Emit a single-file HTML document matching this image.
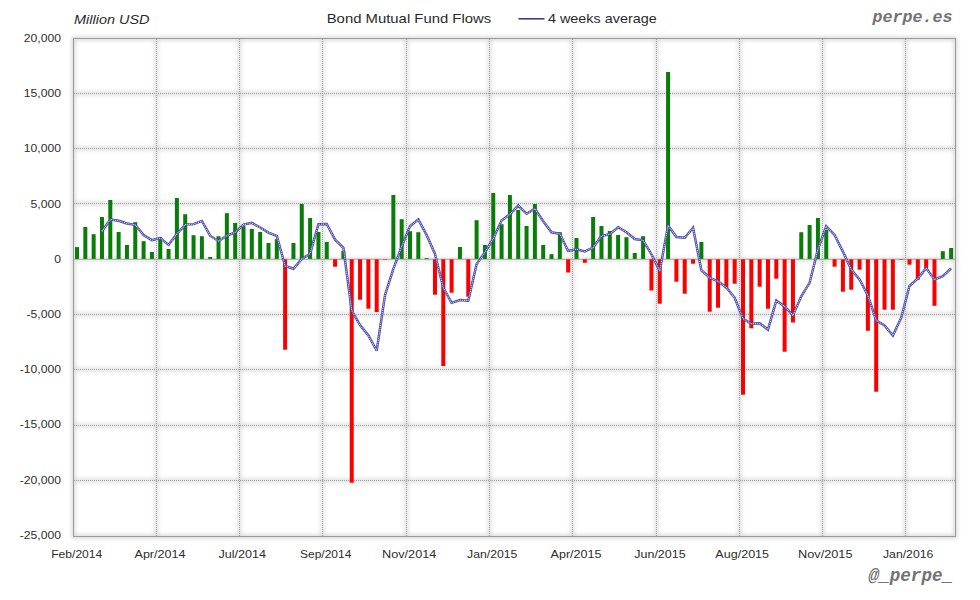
<!DOCTYPE html>
<html><head><meta charset="utf-8"><title>Bond Mutual Fund Flows</title>
<style>
html,body{margin:0;padding:0;background:#fff;}
svg{display:block;}
.lab text{font-family:"Liberation Sans",sans-serif;font-size:11px;fill:#2e2e2e;}
.ttl{font-family:"Liberation Sans",sans-serif;font-size:13.5px;fill:#2a2a2a;}
.mono{font-family:"Liberation Mono",monospace;font-weight:bold;font-style:italic;fill:#737373;}
</style></head>
<body>
<svg width="980" height="600" viewBox="0 0 980 600">
<defs>
<filter id="bl" x="-5%" y="-5%" width="110%" height="110%"><feGaussianBlur stdDeviation="2"/></filter>
</defs>
<rect width="980" height="600" fill="#fff"/>
<g filter="url(#bl)" stroke="#000" stroke-width="2.4" opacity="0.2" fill="none">
<rect x="73.5" y="38.5" width="882.0" height="498.0" stroke-width="3"/>
<line x1="73.5" y1="93.5" x2="955.5" y2="93.5"/><line x1="73.5" y1="148.5" x2="955.5" y2="148.5"/><line x1="73.5" y1="203.5" x2="955.5" y2="203.5"/><line x1="73.5" y1="259.6" x2="955.5" y2="259.6"/><line x1="73.5" y1="314.5" x2="955.5" y2="314.5"/><line x1="73.5" y1="369.5" x2="955.5" y2="369.5"/><line x1="73.5" y1="425.5" x2="955.5" y2="425.5"/><line x1="73.5" y1="480.5" x2="955.5" y2="480.5"/><line x1="156.5" y1="38.5" x2="156.5" y2="536.5"/><line x1="239.5" y1="38.5" x2="239.5" y2="536.5"/><line x1="322.5" y1="38.5" x2="322.5" y2="536.5"/><line x1="406.5" y1="38.5" x2="406.5" y2="536.5"/><line x1="489.5" y1="38.5" x2="489.5" y2="536.5"/><line x1="572.5" y1="38.5" x2="572.5" y2="536.5"/><line x1="656.5" y1="38.5" x2="656.5" y2="536.5"/><line x1="739.5" y1="38.5" x2="739.5" y2="536.5"/><line x1="822.5" y1="38.5" x2="822.5" y2="536.5"/><line x1="905.5" y1="38.5" x2="905.5" y2="536.5"/>
</g>
<g stroke="#a2a2a2" stroke-width="1" stroke-dasharray="1,1" fill="none">
<line x1="74" y1="93.5" x2="955" y2="93.5"/><line x1="74" y1="148.5" x2="955" y2="148.5"/><line x1="74" y1="203.5" x2="955" y2="203.5"/><line x1="74" y1="314.5" x2="955" y2="314.5"/><line x1="74" y1="369.5" x2="955" y2="369.5"/><line x1="74" y1="425.5" x2="955" y2="425.5"/><line x1="74" y1="480.5" x2="955" y2="480.5"/><line x1="156.5" y1="39" x2="156.5" y2="536"/><line x1="239.5" y1="39" x2="239.5" y2="536"/><line x1="322.5" y1="39" x2="322.5" y2="536"/><line x1="406.5" y1="39" x2="406.5" y2="536"/><line x1="489.5" y1="39" x2="489.5" y2="536"/><line x1="572.5" y1="39" x2="572.5" y2="536"/><line x1="656.5" y1="39" x2="656.5" y2="536"/><line x1="739.5" y1="39" x2="739.5" y2="536"/><line x1="822.5" y1="39" x2="822.5" y2="536"/><line x1="905.5" y1="39" x2="905.5" y2="536"/>
</g>
<rect x="73.5" y="38.5" width="882.0" height="498.0" fill="none" stroke="#9a9a9a" stroke-width="1"/>
<line x1="74" y1="259.3" x2="955" y2="259.3" stroke="#a4a4a4" stroke-width="1.1"/>
<g>
<rect x="75.00" y="247.1" width="4" height="11.8" fill="#087d08"/><rect x="83.33" y="227.0" width="4" height="31.9" fill="#087d08"/><rect x="91.65" y="234.2" width="4" height="24.7" fill="#087d08"/><rect x="99.97" y="217.0" width="4" height="41.9" fill="#087d08"/><rect x="108.30" y="200.0" width="4" height="58.9" fill="#087d08"/><rect x="116.62" y="232.0" width="4" height="26.9" fill="#087d08"/><rect x="124.95" y="245.0" width="4" height="13.9" fill="#087d08"/><rect x="133.27" y="222.2" width="4" height="36.7" fill="#087d08"/><rect x="141.60" y="241.2" width="4" height="17.7" fill="#087d08"/><rect x="149.93" y="252.0" width="4" height="6.9" fill="#087d08"/><rect x="158.25" y="237.2" width="4" height="21.7" fill="#087d08"/><rect x="166.57" y="249.0" width="4" height="9.9" fill="#087d08"/><rect x="174.90" y="198.0" width="4" height="60.9" fill="#087d08"/><rect x="183.22" y="214.2" width="4" height="44.7" fill="#087d08"/><rect x="191.55" y="235.2" width="4" height="23.7" fill="#087d08"/><rect x="199.88" y="236.2" width="4" height="22.7" fill="#087d08"/><rect x="208.20" y="257.0" width="4" height="1.9" fill="#087d08"/><rect x="216.52" y="236.2" width="4" height="22.7" fill="#087d08"/><rect x="224.85" y="213.2" width="4" height="45.7" fill="#087d08"/><rect x="233.17" y="223.0" width="4" height="35.9" fill="#087d08"/><rect x="241.50" y="226.2" width="4" height="32.7" fill="#087d08"/><rect x="249.82" y="229.0" width="4" height="29.9" fill="#087d08"/><rect x="258.15" y="232.0" width="4" height="26.9" fill="#087d08"/><rect x="266.48" y="243.0" width="4" height="15.9" fill="#087d08"/><rect x="274.80" y="239.2" width="4" height="19.7" fill="#087d08"/><rect x="283.12" y="259.3" width="4" height="90.4" fill="#fa0000"/><rect x="291.45" y="243.0" width="4" height="15.9" fill="#087d08"/><rect x="299.77" y="204.0" width="4" height="54.9" fill="#087d08"/><rect x="308.10" y="218.0" width="4" height="40.9" fill="#087d08"/><rect x="316.42" y="232.0" width="4" height="26.9" fill="#087d08"/><rect x="324.75" y="242.0" width="4" height="16.9" fill="#087d08"/><rect x="333.07" y="259.3" width="4" height="7.4" fill="#fa0000"/><rect x="341.40" y="251.0" width="4" height="7.9" fill="#087d08"/><rect x="349.72" y="259.3" width="4" height="223.4" fill="#fa0000"/><rect x="358.05" y="259.3" width="4" height="40.4" fill="#fa0000"/><rect x="366.38" y="259.3" width="4" height="49.4" fill="#fa0000"/><rect x="374.70" y="259.3" width="4" height="52.7" fill="#fa0000"/><rect x="383.02" y="259.3" width="4" height="0.5" fill="#fa0000"/><rect x="391.35" y="195.0" width="4" height="63.9" fill="#087d08"/><rect x="399.67" y="219.2" width="4" height="39.7" fill="#087d08"/><rect x="408.00" y="231.2" width="4" height="27.7" fill="#087d08"/><rect x="416.32" y="232.2" width="4" height="26.7" fill="#087d08"/><rect x="424.65" y="258.0" width="4" height="0.9" fill="#087d08"/><rect x="432.97" y="259.3" width="4" height="35.4" fill="#fa0000"/><rect x="441.30" y="259.3" width="4" height="106.7" fill="#fa0000"/><rect x="449.62" y="259.3" width="4" height="33.4" fill="#fa0000"/><rect x="457.95" y="247.0" width="4" height="11.9" fill="#087d08"/><rect x="466.27" y="259.3" width="4" height="37.4" fill="#fa0000"/><rect x="474.60" y="220.2" width="4" height="38.7" fill="#087d08"/><rect x="482.92" y="245.0" width="4" height="13.9" fill="#087d08"/><rect x="491.25" y="193.0" width="4" height="65.9" fill="#087d08"/><rect x="499.57" y="224.2" width="4" height="34.7" fill="#087d08"/><rect x="507.90" y="195.0" width="4" height="63.9" fill="#087d08"/><rect x="516.22" y="210.0" width="4" height="48.9" fill="#087d08"/><rect x="524.55" y="226.0" width="4" height="32.9" fill="#087d08"/><rect x="532.88" y="204.0" width="4" height="54.9" fill="#087d08"/><rect x="541.20" y="245.0" width="4" height="13.9" fill="#087d08"/><rect x="549.52" y="254.2" width="4" height="4.7" fill="#087d08"/><rect x="557.85" y="232.2" width="4" height="26.7" fill="#087d08"/><rect x="566.17" y="259.3" width="4" height="13.2" fill="#fa0000"/><rect x="574.50" y="238.0" width="4" height="20.9" fill="#087d08"/><rect x="582.82" y="259.3" width="4" height="3.5" fill="#fa0000"/><rect x="591.15" y="217.0" width="4" height="41.9" fill="#087d08"/><rect x="599.47" y="226.0" width="4" height="32.9" fill="#087d08"/><rect x="607.80" y="231.0" width="4" height="27.9" fill="#087d08"/><rect x="616.12" y="235.0" width="4" height="23.9" fill="#087d08"/><rect x="624.45" y="237.2" width="4" height="21.7" fill="#087d08"/><rect x="632.77" y="253.0" width="4" height="5.9" fill="#087d08"/><rect x="641.10" y="236.2" width="4" height="22.7" fill="#087d08"/><rect x="649.42" y="259.3" width="4" height="31.2" fill="#fa0000"/><rect x="657.75" y="259.3" width="4" height="44.4" fill="#fa0000"/><rect x="666.07" y="72.0" width="4" height="186.9" fill="#087d08"/><rect x="674.40" y="259.3" width="4" height="22.4" fill="#fa0000"/><rect x="682.72" y="259.3" width="4" height="34.4" fill="#fa0000"/><rect x="691.05" y="259.3" width="4" height="4.4" fill="#fa0000"/><rect x="699.38" y="242.0" width="4" height="16.9" fill="#087d08"/><rect x="707.70" y="259.3" width="4" height="52.4" fill="#fa0000"/><rect x="716.02" y="259.3" width="4" height="48.4" fill="#fa0000"/><rect x="724.35" y="259.3" width="4" height="29.0" fill="#fa0000"/><rect x="732.67" y="259.3" width="4" height="24.4" fill="#fa0000"/><rect x="741.00" y="259.3" width="4" height="135.4" fill="#fa0000"/><rect x="749.32" y="259.3" width="4" height="69.0" fill="#fa0000"/><rect x="757.65" y="259.3" width="4" height="27.4" fill="#fa0000"/><rect x="765.97" y="259.3" width="4" height="49.4" fill="#fa0000"/><rect x="774.30" y="259.3" width="4" height="19.4" fill="#fa0000"/><rect x="782.62" y="259.3" width="4" height="92.4" fill="#fa0000"/><rect x="790.95" y="259.3" width="4" height="63.2" fill="#fa0000"/><rect x="799.27" y="232.2" width="4" height="26.7" fill="#087d08"/><rect x="807.60" y="225.0" width="4" height="33.9" fill="#087d08"/><rect x="815.92" y="218.0" width="4" height="40.9" fill="#087d08"/><rect x="824.25" y="230.0" width="4" height="28.9" fill="#087d08"/><rect x="832.57" y="259.3" width="4" height="7.4" fill="#fa0000"/><rect x="840.90" y="259.3" width="4" height="32.4" fill="#fa0000"/><rect x="849.22" y="259.3" width="4" height="30.4" fill="#fa0000"/><rect x="857.55" y="259.3" width="4" height="10.4" fill="#fa0000"/><rect x="865.87" y="259.3" width="4" height="71.5" fill="#fa0000"/><rect x="874.20" y="259.3" width="4" height="132.4" fill="#fa0000"/><rect x="882.52" y="259.3" width="4" height="50.4" fill="#fa0000"/><rect x="890.85" y="259.3" width="4" height="50.4" fill="#fa0000"/><rect x="899.17" y="259.3" width="4" height="0.5" fill="#fa0000"/><rect x="907.50" y="259.3" width="4" height="5.4" fill="#fa0000"/><rect x="915.82" y="259.3" width="4" height="20.4" fill="#fa0000"/><rect x="924.15" y="259.3" width="4" height="9.0" fill="#fa0000"/><rect x="932.47" y="259.3" width="4" height="46.5" fill="#fa0000"/><rect x="940.80" y="251.2" width="4" height="7.7" fill="#087d08"/><rect x="949.12" y="248.0" width="4" height="10.9" fill="#087d08"/>
</g>
<polyline points="101.97,231.32 110.30,219.55 118.62,220.80 126.95,223.50 135.27,224.80 143.60,235.10 151.93,240.10 160.25,238.15 168.57,244.85 176.90,234.05 185.22,224.60 193.55,224.10 201.88,220.90 210.20,235.65 218.52,241.15 226.85,235.65 235.17,232.35 243.50,224.65 251.82,222.85 260.15,227.55 268.48,232.55 276.80,235.80 285.12,265.98 293.45,268.73 301.77,258.98 310.10,253.68 318.42,224.25 326.75,224.00 335.07,239.68 343.40,247.93 351.72,310.60 360.05,325.02 368.38,335.52 376.70,350.77 385.02,295.05 393.35,268.88 401.67,246.50 410.00,226.30 418.32,219.40 426.65,235.15 434.97,254.02 443.30,287.73 451.62,302.85 459.95,300.10 468.27,300.60 476.60,264.15 484.92,252.22 493.25,238.72 501.57,220.60 509.90,214.30 518.22,205.55 526.55,213.80 534.88,208.75 543.20,221.25 551.52,232.30 559.85,233.85 568.17,250.97 576.50,249.22 584.82,251.38 593.15,247.57 601.47,235.95 609.80,234.20 618.12,227.25 626.45,232.30 634.77,239.05 643.10,240.35 651.42,254.22 659.75,270.85 668.07,225.60 676.40,236.97 684.72,237.77 693.05,227.77 701.38,270.27 709.70,277.77 718.02,281.27 726.35,287.43 734.67,297.85 743.00,318.60 751.32,323.75 759.65,323.35 767.97,329.60 776.30,300.60 784.62,306.45 792.95,315.40 801.27,296.27 809.60,282.85 817.92,249.43 826.25,226.30 834.57,234.93 842.90,251.60 851.22,269.52 859.55,279.45 867.87,295.48 876.20,320.48 884.52,325.48 892.85,335.48 901.17,317.73 909.50,285.98 917.82,278.48 926.15,268.12 934.47,279.62 942.80,276.25 951.12,268.32" fill="none" stroke="#4242a0" stroke-width="2.45" stroke-linejoin="miter" stroke-miterlimit="3" stroke-linecap="butt"/>
<polyline points="101.97,231.32 110.30,219.55 118.62,220.80 126.95,223.50 135.27,224.80 143.60,235.10 151.93,240.10 160.25,238.15 168.57,244.85 176.90,234.05 185.22,224.60 193.55,224.10 201.88,220.90 210.20,235.65 218.52,241.15 226.85,235.65 235.17,232.35 243.50,224.65 251.82,222.85 260.15,227.55 268.48,232.55 276.80,235.80 285.12,265.98 293.45,268.73 301.77,258.98 310.10,253.68 318.42,224.25 326.75,224.00 335.07,239.68 343.40,247.93 351.72,310.60 360.05,325.02 368.38,335.52 376.70,350.77 385.02,295.05 393.35,268.88 401.67,246.50 410.00,226.30 418.32,219.40 426.65,235.15 434.97,254.02 443.30,287.73 451.62,302.85 459.95,300.10 468.27,300.60 476.60,264.15 484.92,252.22 493.25,238.72 501.57,220.60 509.90,214.30 518.22,205.55 526.55,213.80 534.88,208.75 543.20,221.25 551.52,232.30 559.85,233.85 568.17,250.97 576.50,249.22 584.82,251.38 593.15,247.57 601.47,235.95 609.80,234.20 618.12,227.25 626.45,232.30 634.77,239.05 643.10,240.35 651.42,254.22 659.75,270.85 668.07,225.60 676.40,236.97 684.72,237.77 693.05,227.77 701.38,270.27 709.70,277.77 718.02,281.27 726.35,287.43 734.67,297.85 743.00,318.60 751.32,323.75 759.65,323.35 767.97,329.60 776.30,300.60 784.62,306.45 792.95,315.40 801.27,296.27 809.60,282.85 817.92,249.43 826.25,226.30 834.57,234.93 842.90,251.60 851.22,269.52 859.55,279.45 867.87,295.48 876.20,320.48 884.52,325.48 892.85,335.48 901.17,317.73 909.50,285.98 917.82,278.48 926.15,268.12 934.47,279.62 942.80,276.25 951.12,268.32" fill="none" stroke="#d6d6f8" stroke-width="1.1" stroke-linejoin="round" stroke-linecap="butt" stroke-dasharray="1.1,0.8"/>
<g class="lab">
<text transform="translate(60.9,41.8) scale(1.105,1)" text-anchor="end">20,000</text><text transform="translate(60.9,97.0) scale(1.105,1)" text-anchor="end">15,000</text><text transform="translate(60.9,152.2) scale(1.105,1)" text-anchor="end">10,000</text><text transform="translate(60.9,207.5) scale(1.105,1)" text-anchor="end">5,000</text><text transform="translate(60.9,262.7) scale(1.105,1)" text-anchor="end">0</text><text transform="translate(60.9,317.9) scale(1.105,1)" text-anchor="end">-5,000</text><text transform="translate(60.9,373.1) scale(1.105,1)" text-anchor="end">-10,000</text><text transform="translate(60.9,428.3) scale(1.105,1)" text-anchor="end">-15,000</text><text transform="translate(60.9,483.6) scale(1.105,1)" text-anchor="end">-20,000</text><text transform="translate(60.9,538.8) scale(1.105,1)" text-anchor="end">-25,000</text><text x="51.2" y="557.8" textLength="51.1" lengthAdjust="spacingAndGlyphs">Feb/2014</text><text x="134.5" y="557.8" textLength="51.0" lengthAdjust="spacingAndGlyphs">Apr/2014</text><text x="218.5" y="557.8" textLength="47.6" lengthAdjust="spacingAndGlyphs">Jul/2014</text><text x="300.0" y="557.8" textLength="51.3" lengthAdjust="spacingAndGlyphs">Sep/2014</text><text x="382.1" y="557.8" textLength="54.2" lengthAdjust="spacingAndGlyphs">Nov/2014</text><text x="467.1" y="557.8" textLength="50.3" lengthAdjust="spacingAndGlyphs">Jan/2015</text><text x="550.5" y="557.8" textLength="51.1" lengthAdjust="spacingAndGlyphs">Apr/2015</text><text x="634.3" y="557.8" textLength="51.3" lengthAdjust="spacingAndGlyphs">Jun/2015</text><text x="715.3" y="557.8" textLength="53.8" lengthAdjust="spacingAndGlyphs">Aug/2015</text><text x="798.0" y="557.8" textLength="54.5" lengthAdjust="spacingAndGlyphs">Nov/2015</text><text x="883.0" y="557.8" textLength="50.3" lengthAdjust="spacingAndGlyphs">Jan/2016</text>
</g>
<text class="ttl" x="74" y="24" font-style="italic" textLength="75.5" lengthAdjust="spacingAndGlyphs">Million USD</text>
<text class="ttl" x="326.7" y="22.5" textLength="164.5" lengthAdjust="spacingAndGlyphs">Bond Mutual Fund Flows</text>
<line x1="518.5" y1="18.8" x2="544.5" y2="18.8" stroke="#3a3a98" stroke-width="1.6"/>
<text class="ttl" x="548" y="22.5" textLength="108.7" lengthAdjust="spacingAndGlyphs">4 weeks average</text>
<text class="mono" x="872.6" y="22.2" font-size="17" textLength="80" lengthAdjust="spacingAndGlyphs">perpe.es</text>
<text class="mono" x="868.6" y="580.5" font-size="17.5" textLength="84.5" lengthAdjust="spacingAndGlyphs">@_perpe_</text>
</svg>
</body></html>
